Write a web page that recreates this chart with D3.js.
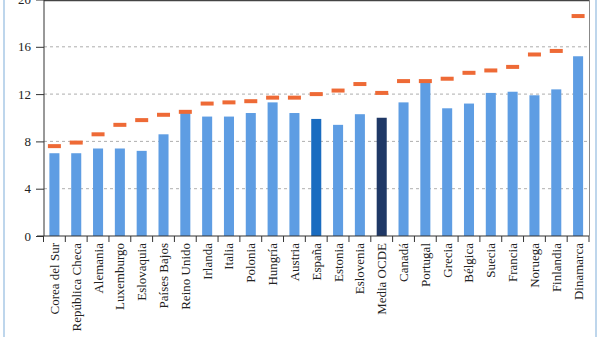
<!DOCTYPE html>
<html><head><meta charset="utf-8">
<script src="https://cdn.jsdelivr.net/npm/d3@7"></script>
<style>body{margin:0;background:#fff}svg{display:block}</style>
</head><body>
<svg id="c" width="600" height="337"></svg>
<script>
const categories = ["Corea del Sur","República Checa","Alemania","Luxemburgo","Eslovaquia","Países Bajos","Reino Unido","Irlanda","Italia","Polonia","Hungría","Austria","España","Estonia","Eslovenia","Media OCDE","Canadá","Portugal","Grecia","Bélgica","Suecia","Francia","Noruega","Finlandia","Dinamarca"];
const barValues = [7.0,7.0,7.4,7.4,7.2,8.6,10.4,10.1,10.1,10.4,11.3,10.4,9.9,9.4,10.3,10.0,11.3,13.0,10.8,11.2,12.1,12.2,11.9,12.4,15.2];
const markerValues = [7.6,7.9,8.6,9.4,9.8,10.25,10.5,11.2,11.3,11.4,11.7,11.7,12.0,12.3,12.85,12.1,13.1,13.1,13.3,13.8,14.0,14.3,15.35,15.65,18.6];
const yTicks = [0,4,8,12,16,20];

const svg = d3.select("#c");
const x = d3.scaleBand().domain(categories).range([43.5, 589]).paddingInner(0.54).paddingOuter(0.27);
const y = d3.scaleLinear().domain([0,20]).range([236, -0.5]);
const font = "'Liberation Serif', 'DejaVu Serif', serif";

// page borders (scan)
svg.append("line").attr("x1",4).attr("x2",4).attr("y1",0).attr("y2",337).attr("stroke","#a9c8e6").attr("stroke-width",1.5);
svg.append("line").attr("x1",596).attr("x2",596).attr("y1",0).attr("y2",337).attr("stroke","#a9c8e6").attr("stroke-width",1.5);

// gridlines
svg.append("g").selectAll("line").data(yTicks.filter(d=>d>0 && d<20)).join("line")
  .attr("x1",44).attr("x2",589).attr("y1",d=>y(d)).attr("y2",d=>y(d))
  .attr("stroke","#999").attr("stroke-dasharray","3,3").attr("stroke-width",0.8);

// frame top and right
svg.append("line").attr("x1",44).attr("x2",590).attr("y1",0.5).attr("y2",0.5).attr("stroke","#444").attr("stroke-width",1.5);
svg.append("line").attr("x1",589.5).attr("x2",589.5).attr("y1",0).attr("y2",236).attr("stroke","#888").attr("stroke-width",1);

// bars
svg.append("g").selectAll("rect").data(categories).join("rect")
  .attr("x",d=>x(d)).attr("width",x.bandwidth())
  .attr("y",(d,i)=>y(barValues[i])).attr("height",(d,i)=>y(0)-y(barValues[i]))
  .attr("fill",d=>d==="España"?"#1a6cc0":d==="Media OCDE"?"#1f3866":"#5e9de3");

// markers
const mw = 13;
svg.append("g").selectAll("rect").data(categories).join("rect")
  .attr("x",d=>x(d)+x.bandwidth()/2-mw/2).attr("width",mw)
  .attr("y",(d,i)=>y(markerValues[i])-2).attr("height",4)
  .attr("fill","#ee6a36");

// y axis
const yAxis = d3.axisLeft(y).tickValues(yTicks).tickSize(8).tickPadding(5);
const ga = svg.append("g").attr("transform","translate(44,0)").call(yAxis);
ga.select(".domain").attr("stroke","#333").attr("d","M0,0V236");
ga.selectAll(".tick line").attr("stroke","#333");
ga.selectAll("text").attr("font-family",font).attr("font-size",13).attr("fill","#222");

// x axis
svg.append("line").attr("x1",37).attr("x2",589).attr("y1",236).attr("y2",236).attr("stroke","#333").attr("stroke-width",1.2);
const step = x.step();
const bounds = d3.range(categories.length+1).map(i=> x(categories[0]) - x.paddingInner()*step/2 + i*step);
svg.append("g").selectAll("line").data(bounds).join("line")
  .attr("x1",d=>d).attr("x2",d=>d).attr("y1",236).attr("y2",242).attr("stroke","#333");

svg.append("g").selectAll("text").data(categories).join("text")
  .attr("transform",d=>`translate(${x(d)+x.bandwidth()/2+4.5},243) rotate(-90)`)
  .attr("text-anchor","end").attr("font-family",font).attr("font-size",13).attr("fill","#222")
  .text(d=>d);
</script>
</body></html>
